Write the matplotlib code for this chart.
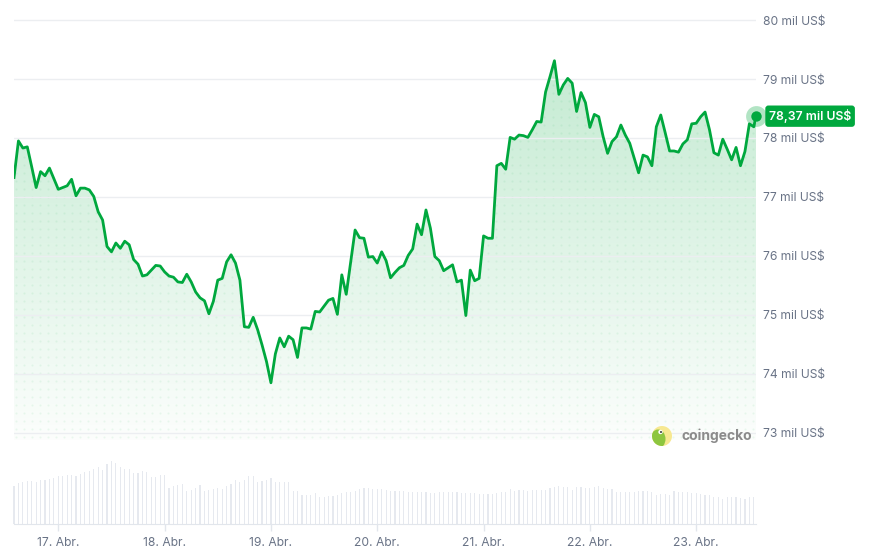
import matplotlib
matplotlib.use("Agg")
import matplotlib.pyplot as plt
import matplotlib.dates as mdates
import matplotlib.transforms as mtransforms
from matplotlib.colors import to_rgb
from matplotlib.patches import Circle, Ellipse
import numpy as np
import pandas as pd

plt.rcParams["font.family"] = ["Inter", "DejaVu Sans"]

# hourly BTC price in thousand US$ (last value = live price)
price = [
    77.33, 77.95, 77.83, 77.85, 77.51, 77.16, 77.43, 77.36, 77.49, 77.31,
    77.13, 77.16, 77.19, 77.30, 77.02, 77.15, 77.15, 77.12, 77.01, 76.75,
    76.61, 76.16, 76.07, 76.22, 76.13, 76.25, 76.19, 75.94, 75.86, 75.66,
    75.68, 75.76, 75.84, 75.83, 75.73, 75.66, 75.64, 75.56, 75.55, 75.69,
    75.56, 75.39, 75.29, 75.24, 75.02, 75.23, 75.59, 75.62, 75.90, 76.02,
    75.88, 75.59, 74.80, 74.79, 74.96, 74.75, 74.49, 74.21, 73.85, 74.34,
    74.61, 74.46, 74.64, 74.58, 74.28, 74.78, 74.78, 74.76, 75.06, 75.05,
    75.15, 75.25, 75.28, 75.01, 75.68, 75.35, 75.90, 76.44, 76.31, 76.30,
    75.98, 75.99, 75.88, 76.07, 75.92, 75.63, 75.72, 75.80, 75.84, 76.01,
    76.12, 76.54, 76.36, 76.78, 76.47, 75.99, 75.92, 75.75, 75.80, 75.85,
    75.56, 75.59, 74.99, 75.76, 75.58, 75.62, 76.34, 76.30, 76.30, 77.53,
    77.57, 77.47, 78.01, 77.98, 78.05, 78.04, 78.01, 78.14, 78.28, 78.27,
    78.78, 79.04, 79.31, 78.74, 78.90, 79.01, 78.93, 78.45, 78.77, 78.60,
    78.18, 78.40, 78.36, 78.02, 77.74, 77.94, 78.02, 78.22, 78.05, 77.91,
    77.66, 77.41, 77.71, 77.68, 77.53, 78.19, 78.39, 78.09, 77.78, 77.78,
    77.76, 77.90, 77.97, 78.24, 78.25, 78.36, 78.44, 78.14, 77.75, 77.71,
    77.98, 77.81, 77.63, 77.84, 77.53, 77.77, 78.24, 78.19, 78.37,
]

# hourly volume (bn US$, relative bar heights)
volume = [
    38.0, 41.3, 42.3, 43.0, 43.0, 42.3, 44.0, 44.3, 45.0, 46.3,
    48.0, 48.3, 49.0, 49.0, 48.3, 50.0, 51.7, 52.7, 54.7, 56.7,
    54.0, 60.0, 63.0, 60.7, 57.0, 55.0, 55.0, 51.3, 51.3, 53.3,
    52.3, 47.3, 47.3, 49.0, 49.0, 35.7, 38.0, 39.0, 40.0, 33.3,
    34.0, 35.7, 39.0, 33.3, 34.0, 35.0, 35.7, 35.0, 38.0, 39.7,
    43.7, 42.3, 44.0, 48.0, 48.0, 42.3, 43.0, 44.0, 45.7, 41.7,
    41.7, 41.7, 42.3, 33.0, 33.0, 29.0, 29.0, 29.0, 30.7, 27.3,
    27.3, 28.0, 28.0, 29.0, 30.7, 32.3, 32.3, 33.3, 34.7, 35.7,
    35.7, 35.0, 35.0, 34.7, 34.0, 33.0, 33.0, 33.0, 33.0, 31.7,
    31.7, 31.7, 31.7, 31.7, 31.3, 31.3, 32.3, 32.3, 32.3, 32.3,
    32.3, 31.3, 31.3, 31.3, 31.3, 30.0, 30.0, 30.0, 30.0, 30.7,
    31.7, 31.7, 34.7, 33.3, 34.0, 34.0, 33.3, 34.0, 34.0, 34.0,
    34.0, 36.3, 37.3, 38.0, 37.3, 37.3, 34.0, 36.7, 36.7, 36.3,
    35.7, 37.3, 38.0, 36.3, 34.7, 34.7, 32.3, 31.7, 31.7, 31.7,
    32.3, 33.3, 33.3, 33.3, 32.3, 29.0, 30.0, 29.7, 29.0, 33.0,
    31.7, 31.7, 31.7, 30.7, 30.7, 29.7, 29.0, 29.0, 27.3, 26.7,
    25.0, 27.3, 27.3, 27.3, 26.3, 24.7, 26.7, 26.7,
]

times = pd.date_range("2026-04-16 14:00", periods=168, freq="h")
price_times = times.append(pd.DatetimeIndex(["2026-04-23 13:30"]))
day_ticks = pd.date_range("2026-04-17", "2026-04-23", freq="D")
day_labels = [f"{d.day}. Abr." for d in day_ticks]
price_ticks = [73, 74, 75, 76, 77, 78, 79, 80]
last_label = "78,37 mil US$"

GREEN = "#00a83e"
GRID = "#eceef1"
TEXT = "#697386"

W, H = 876, 554
fig = plt.figure(figsize=(W / 100, H / 100), dpi=100)
fig.patch.set_facecolor("white")
ax = fig.add_axes([14 / W, 1 - 440 / H, 742 / W, 430 / H])
axv = fig.add_axes([14 / W, 1 - 524 / H, 742 / W, 69 / H])

x = mdates.date2num(price_times)
y0, y1 = 72.88, 80.17

# gradient area under the line
fill = ax.fill_between(x, price, y0, facecolor="none", edgecolor="none")
clip = fill.get_paths()[0]
ramp = np.linspace(0, 1, 256)[:, None]
rgba = np.zeros((256, 1, 4))
rgba[..., :3] = to_rgb(GREEN)
rgba[..., 3] = 0.015 + 0.25 * ramp
img = ax.imshow(rgba, extent=[x[0], x[-1], y0, y1], origin="lower",
                aspect="auto", zorder=1, interpolation="bilinear")
img.set_clip_path(clip, transform=ax.transData)

# faint dot texture inside the area
gx, gy = np.meshgrid(np.arange(x[0] + 0.02, x[-1], 0.0753),
                     np.arange(y0 + 0.05, y1, 0.1356))
dots = ax.scatter(gx.ravel(), gy.ravel(), s=2.2, color=GREEN, alpha=0.07,
                  linewidths=0, zorder=1.2)
dots.set_clip_path(clip, transform=ax.transData)

ax.plot(x, price, color=GREEN, lw=2.0, zorder=3, solid_joinstyle="round")
ax.plot(x[-1], price[-1], "o", ms=15, color=GREEN, alpha=0.3, mec="none",
        zorder=4, clip_on=False)
ax.plot(x[-1], price[-1], "o", ms=7.5, color=GREEN, mec="none", zorder=5,
        clip_on=False)

trans = mtransforms.blended_transform_factory(ax.transAxes, ax.transData)
ax.text(1.0175, price[-1], last_label, transform=trans, va="center", ha="left",
        color="white", fontsize=8.8, fontweight="semibold", zorder=6,
        bbox=dict(boxstyle="round,pad=0.3,rounding_size=0.25", fc=GREEN, ec="none"))

ax.set_xlim(x[0], x[-1])
ax.set_ylim(y0, y1)
ax.set_yticks(price_ticks)
ax.set_yticklabels([f"{v} mil US$" for v in price_ticks])
ax.yaxis.tick_right()
ax.tick_params(axis="y", length=0, pad=5, labelsize=8.7, labelcolor=TEXT)
ax.set_xticks([])
ax.grid(axis="y", color=GRID, lw=1)
for s in ax.spines.values():
    s.set_visible(False)

# volume bars
axv.bar(times, volume, width=0.26 / 24, color="#e6e9ef", clip_on=False)
axv.set_xlim(x[0], x[-1])
axv.set_ylim(0, 69)
axv.set_yticks([])
axv.set_xticks(day_ticks)
axv.set_xticklabels(day_labels)
axv.tick_params(axis="x", length=5, width=1, color="#e2e6ec", pad=4,
                labelsize=8.7, labelcolor=TEXT)
for side in ["top", "left", "right"]:
    axv.spines[side].set_visible(False)
axv.spines["bottom"].set_color("#e2e6ec")
axv.patch.set_alpha(0)

# coingecko watermark
logo_c = (662 / 100, (H - 436) / 100)
badge = Circle(logo_c, 0.10, transform=fig.dpi_scale_trans, fc="#f7e891", ec="none")
fig.add_artist(badge)
gecko = Ellipse((6.58, (H - 439) / 100), 0.15, 0.19, transform=fig.dpi_scale_trans,
                fc="#8dc63f", ec="none")
fig.add_artist(gecko)
gecko.set_clip_path(badge)
fig.add_artist(Circle((6.605, (H - 432) / 100), 0.022, transform=fig.dpi_scale_trans,
                      fc="white", ec="none"))
fig.add_artist(Circle((6.61, (H - 432) / 100), 0.01, transform=fig.dpi_scale_trans,
                      fc="#3a3a3a", ec="none"))
fig.text(681 / W, 1 - 436 / H, "coingecko", fontsize=10, fontweight="bold",
         color="#8b8b8b", va="center", ha="left")

fig.savefig("out.png", dpi=100)
print("saved")
